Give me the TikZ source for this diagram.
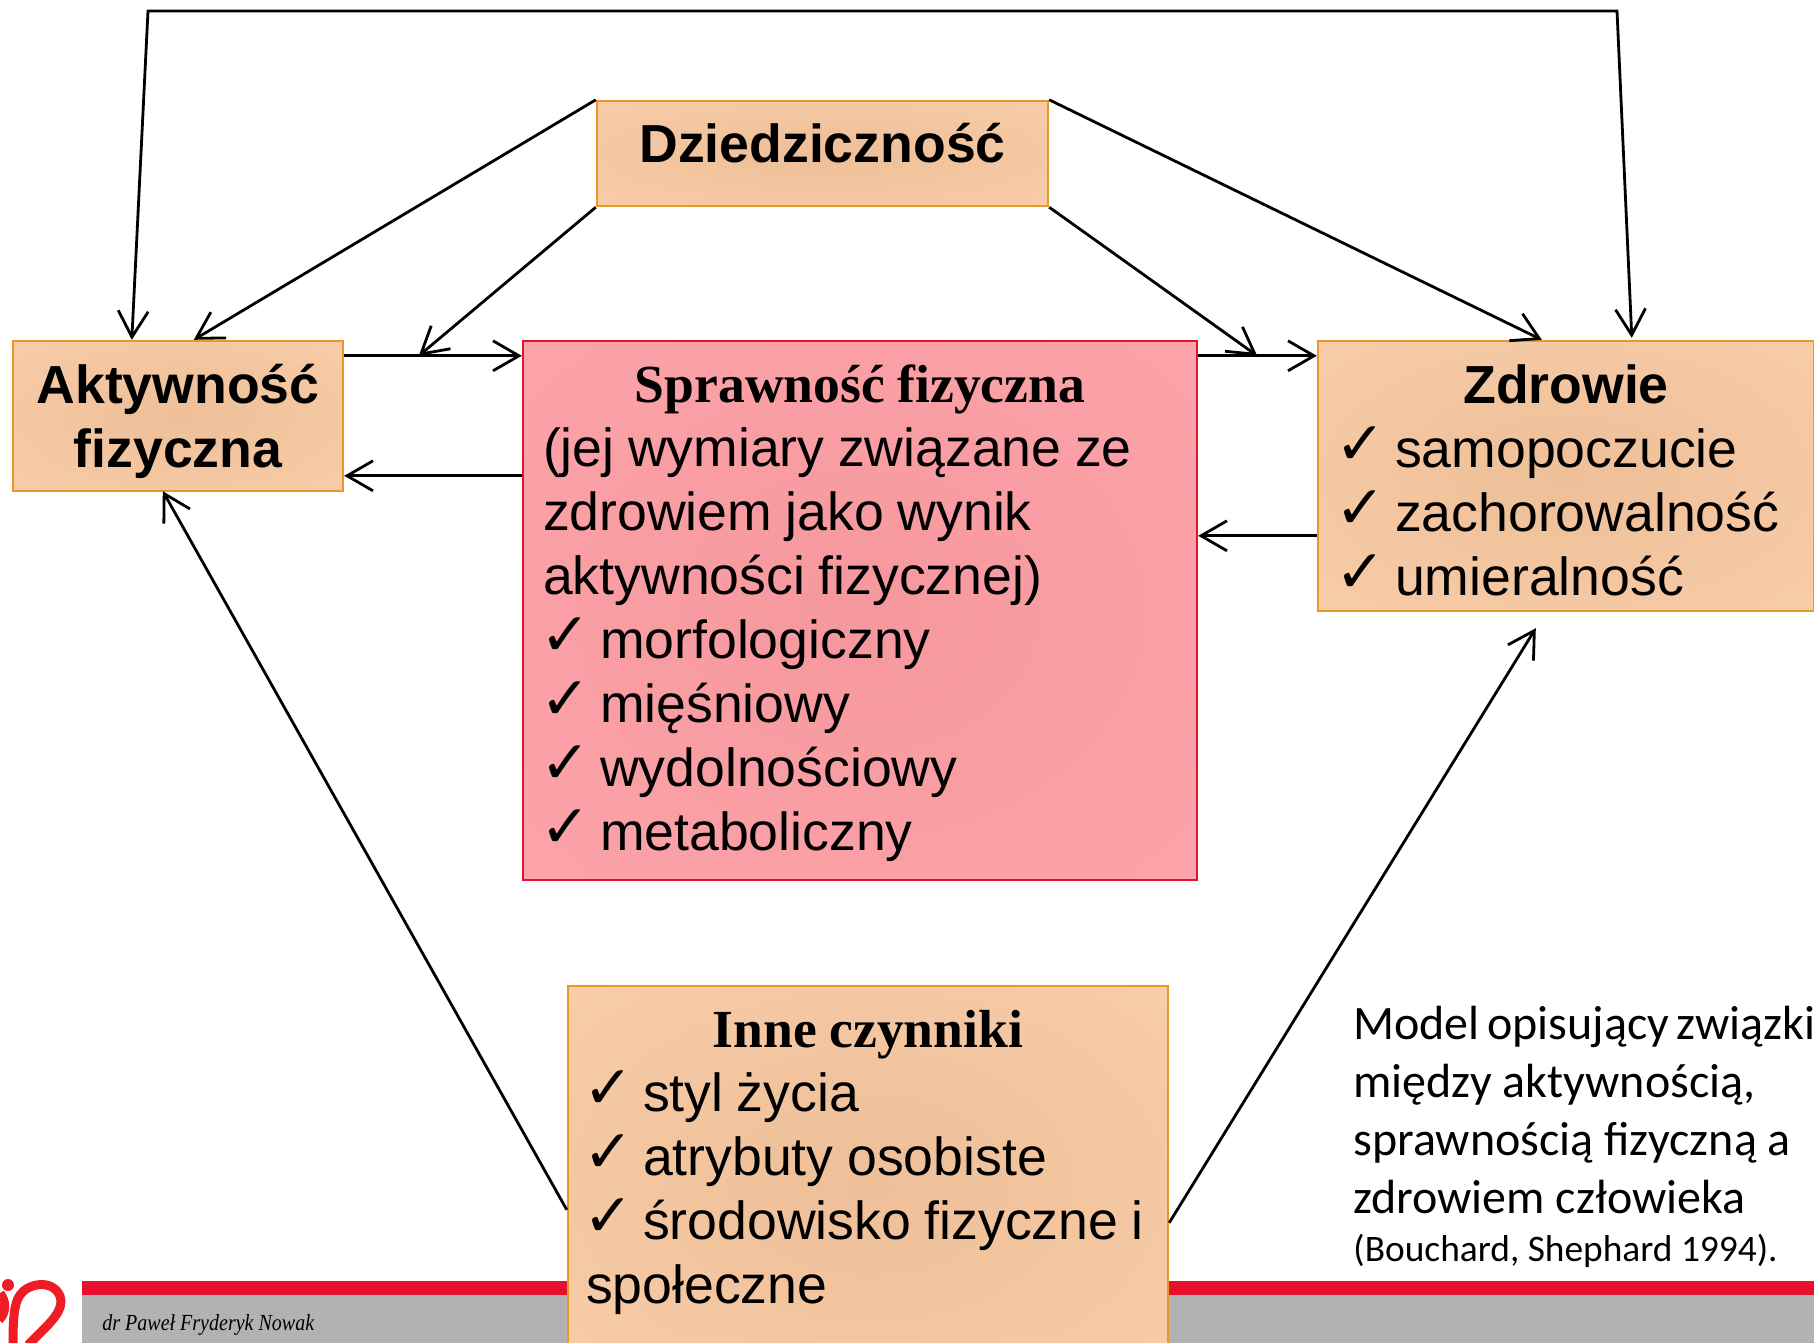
\documentclass[tikz,border=0pt]{standalone}
\usepackage{fontspec}
\setmainfont{Liberation Sans}
\newfontfamily\timesf{Liberation Serif}
\newfontfamily\calib{Carlito}
\newfontfamily\dejav{DejaVu Sans}
\usetikzlibrary{arrows.meta,calc}
\definecolor{orin}{HTML}{EEBF98}
\definecolor{orout}{HTML}{F9CFAB}
\definecolor{orline}{HTML}{E59A27}
\definecolor{rdin}{HTML}{F5989D}
\definecolor{rdout}{HTML}{FDA6AC}
\definecolor{rdline}{HTML}{E3122F}
\definecolor{footred}{HTML}{E9102E}
\definecolor{footgrey}{HTML}{B2B2B2}
\definecolor{logored}{HTML}{EE1C25}
\pgfdeclareradialshading{orglow}{\pgfpointorigin}{color(0bp)=(orin); color(42bp)=(orout); color(50bp)=(orout)}
\pgfdeclareradialshading{rdglow}{\pgfpointorigin}{color(0bp)=(rdin); color(42bp)=(rdout); color(50bp)=(rdout)}
\newcommand{\ck}{\makebox[28.5pt][l]{\hspace{-1.5pt}\raisebox{1.5pt}{\dejav\fontsize{30}{32}\selectfont ✓}}}
\newcommand{\hd}[2]{\makebox[\linewidth][c]{\rule{0pt}{#1}\bfseries #2}\\}
\newcommand{\hdt}[2]{\makebox[\linewidth][c]{\rule{0pt}{#1}\timesf\bfseries\fontsize{26.8}{32}\selectfont\setlength{\spaceskip}{6.2pt}#2}\\}
\tikzset{
 x=0.5pt,y=-0.5pt,
 bx/.style={rectangle,draw=orline,line width=1.2pt,shading=orglow,align=left,inner sep=0pt,
   font=\fontsize{26.8}{32}\selectfont,text=black},
 tbx/.style={bx,execute at begin node={\setlength{\spaceskip}{6.8pt}}},
 rbx/.style={tbx,draw=rdline,shading=rdglow},
 arr/.style={-{Straight Barb[length=13pt,width=15pt,line width=1.4pt]},line width=1.4pt,black},
 arrb/.style={{Straight Barb[length=13pt,width=15pt,line width=1.4pt]}-{Straight Barb[length=13pt,width=15pt,line width=1.4pt]},line width=1.4pt,black},
 captxt/.style={inner sep=0pt,anchor=north west,align=left,font=\calib\fontsize{24}{29}\selectfont}
}
\begin{document}
\begin{tikzpicture}
\useasboundingbox (0,0) rectangle (1814,1343);
\fill[footred] (82,1281) rectangle (1814,1295);
\fill[footgrey] (82,1295) rectangle (1814,1343);
\node[inner sep=0pt,anchor=base west,font=\timesf\itshape\fontsize{11.5}{14}\selectfont] (author) at (102,1330) {\scalebox{0.87}[1]{dr Paweł Fryderyk Nowak}};
% logo
\begin{scope}
\clip (0,1270) rectangle (90,1343);
\fill[logored] (8,1285) circle (6);
\draw[logored,line width=4.5pt] (13,1343) .. controls (13,1320) and (14,1303) .. (20,1295) .. controls (27,1284) and (52,1278) .. (60,1296) .. controls (63,1306) and (58,1314) .. (48,1325) -- (28,1345);
\draw[logored,line width=4.5pt] (0,1293) .. controls (6,1301) and (7,1312) .. (-1,1320);
\end{scope}
\node[bx,minimum width=225.5pt,minimum height=52.5pt,font=\bfseries\fontsize{26.8}{32}\selectfont] (dz) at (822.5,153.5) {Dziedziczność\rule[-10.4pt]{0pt}{10.4pt}};
\node[bx,minimum width=165pt,minimum height=75pt,align=center,font=\bfseries\fontsize{26.8}{32}\selectfont] (akt) at (178,416) {\rule{0pt}{25pt}Aktywność\\fizyczna};
\node[rbx,minimum width=337pt,minimum height=269.5pt,text width=317pt] (spr) at (860,610.5) {\hdt{22pt}{Sprawność fizyczna}%
(jej wymiary związane ze\\zdrowiem jako wynik\\aktywności fizycznej)\\\ck morfologiczny\\\ck mięśniowy\\\ck wydolnościowy\\\ck metaboliczny};
\node[tbx,minimum width=248pt,minimum height=135pt,text width=228pt] (zd) at (1566,476) {\hd{24pt}{Zdrowie}%
\ck samopoczucie\\\ck zachorowalność\\\ck umieralność};
\node[tbx,minimum width=300pt,minimum height=198.5pt,text width=282pt] (inne) at (868,1184.5) {\hdt{19pt}{Inne czynniki}%
\ck styl życia\\\ck atrybuty osobiste\\\ck środowisko fizyczne i\\społeczne\rule[-28pt]{0pt}{28pt}};
\node[captxt] (model) at (1353,1006) {{\setlength{\spaceskip}{3.8pt}Model opisujący związki}\\między aktywnością,\\sprawnością fizyczną a\\zdrowiem człowieka\\[-5.3pt]{\fontsize{18.7}{22}\selectfont (Bouchard, Shephard 1994).}};
% connectors
\coordinate (tl) at (148,11);
\coordinate (tr) at (1617,11);
\draw[arrb] ($(akt.north west)+(120,0)$) -- (tl) -- (tr) -- ($(zd.north west)+(315,-2)$);
\draw[arr] (dz.north west) -- ($(akt.north west)+(182,0)$);
\draw[arr] (dz.south west) -- ($(spr.north west)+(-103,16)$);
\draw[arr] (dz.north east) -- ($(zd.north west)+(225,0)$);
\draw[arr] (dz.south east) -- ($(spr.north east)+(59,16)$);
\draw[arr] ($(akt.north east)+(0,16)$) -- ($(spr.north west)+(0,16)$);
\draw[arr] ($(spr.north west)+(0,136)$) -- ($(akt.north east)+(0,136)$);
\draw[arr] ($(spr.north east)+(0,16)$) -- ($(zd.north west)+(0,16)$);
\draw[arr] ($(zd.north west)+(0,196)$) -- ($(spr.north east)+(0,196)$);
\draw[arr] ($(inne.north west)+(0,225)$) -- ($(akt.south west)+(151,-1)$);
\draw[arr] ($(inne.north east)+(0,238)$) -- ($(zd.south west)+(219,16)$);
\end{tikzpicture}
\end{document}
